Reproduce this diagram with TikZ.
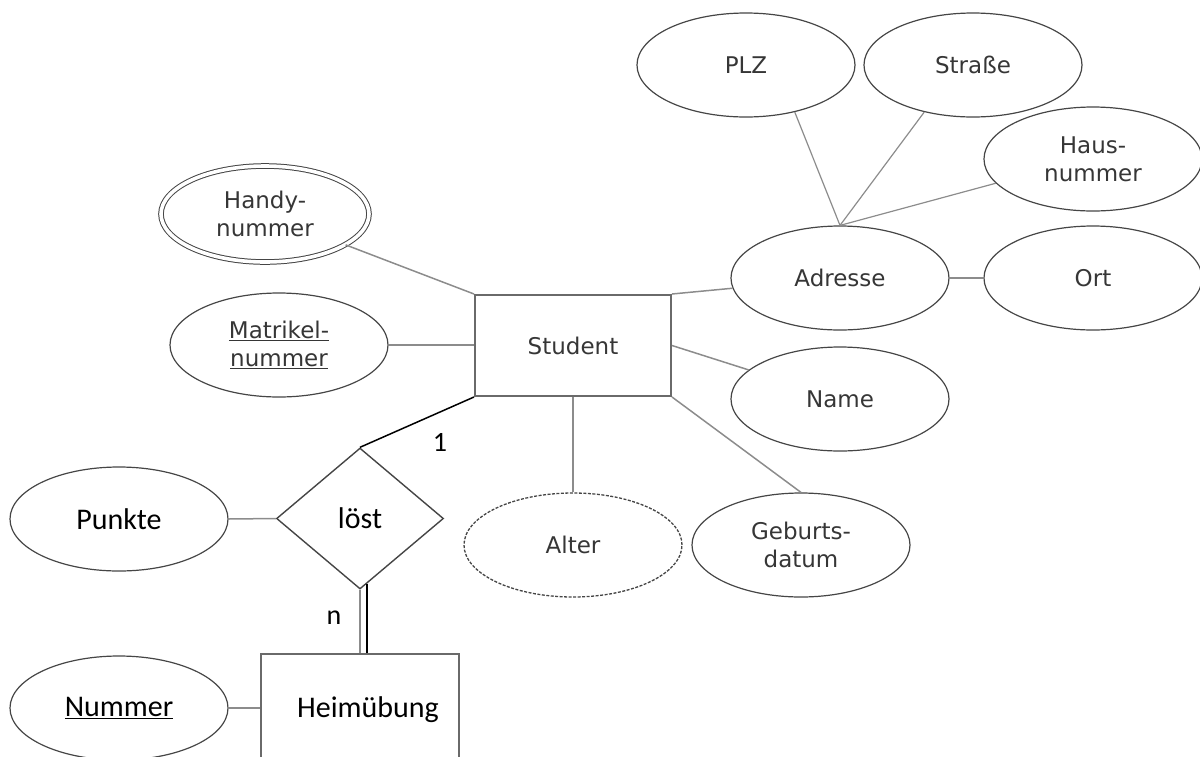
\documentclass[tikz,border=0pt]{standalone}
\usepackage{fontspec}
\setmainfont{DejaVu Sans}
\newfontfamily\carlfont{Carlito}
\usetikzlibrary{shapes.geometric}
\definecolor{txtgray}{HTML}{363636}
\definecolor{ellcol}{HTML}{454545}
\definecolor{linkcol}{HTML}{8C8C8C}
\definecolor{rectcol}{HTML}{6A6A6A}
\begin{document}
\begin{tikzpicture}[x=1pt,y=-1pt,
  attr/.style={ellipse, draw=ellcol, line width=1.2pt, minimum width=218pt, minimum height=104pt,
    inner sep=0pt, text=txtgray, font=\fontsize{23}{28}\selectfont, align=center},
  battr/.style={attr, text=black, font=\carlfont\fontsize{30}{34}\selectfont},
  entitybox/.style={rectangle, draw=rectcol, line width=2pt, inner sep=0pt},
  relbox/.style={diamond, draw=ellcol, line width=1.4pt, inner sep=0pt, minimum width=167pt, minimum height=141pt,
    text=black, font=\carlfont\fontsize{30}{34}\selectfont},
  link/.style={draw=linkcol, line width=1.5pt},
  card/.style={inner sep=0pt, text=black, font=\carlfont\fontsize{28}{32}\selectfont}]
\useasboundingbox (0,0) rectangle (1200,756);
\clip (0,0) rectangle (1200,756);

% entities and relationship
\node[entitybox, minimum width=196pt, minimum height=101pt, text=txtgray, font=\fontsize{23}{28}\selectfont] (student) at (573,345.5) {Student};
\node[entitybox, minimum width=198pt, minimum height=112pt, text=black, font=\carlfont\fontsize{30}{34}\selectfont] (heim) at (360,710) {\hspace*{16pt}Heimübung};
\node[relbox] (loest) at (360,518.5) {löst};

% attributes
\node[attr, double, double distance=3.6pt, line width=1pt, minimum width=208pt, minimum height=96pt] (handy) at (265,214) {Handy-\\nummer};
\node[attr] (matrikel) at (279,345) {\underline{Matrikel-}\\\underline{nummer}};
\node[attr] (adresse) at (840,278) {Adresse};
\node[attr] (ort) at (1093,278) {Ort};
\node[attr] (plz) at (746,65) {PLZ};
\node[attr] (strasse) at (973,65) {Straße};
\node[attr] (haus) at (1093,159) {Haus-\\nummer};
\node[attr] (name) at (840,399) {Name};
\node[attr] (geb) at (801,545) {Geburts-\\datum};
\node[attr, draw=ellcol, dash pattern=on 3pt off 1.5pt, line width=1.3pt] (alter) at (573,545) {Alter};
\node[battr] (punkte) at (119,519) {Punkte};
\node[battr] (nummer) at (119,708) {\underline{Nummer}};

% cardinalities
\node[card] (one) at (440,442) {1};
\node[card] (en) at (334,618) {n};

% connectors
\draw[link] (handy) -- (student.north west);
\draw[link] (matrikel.east) -- (matrikel.east -| student.west);
\draw[link] (student.north east) -- (adresse);
\draw[link] (adresse.east) -- (ort.west);
\draw[link, line width=1.2pt] (plz.-44) -- (adresse.north);
\draw[link, line width=1.2pt] (strasse.-136) -- (adresse.north);
\draw[link, line width=1.2pt] (haus.-166) -- (adresse.north);
\draw[link] (student.east) -- (name);
\draw[link] (student.south east) -- (geb.north);
\draw[link] (student.south) -- (alter.north);
\draw[black, line width=1.5pt] (student.south west) -- (loest.north);
\draw[link] (loest.west) -- (punkte.east);
\draw[link] (loest.south) -- (loest.south |- heim.north);
\draw[black, line width=1.8pt] ([xshift=7pt]heim.north) -- ([xshift=7pt,yshift=6pt]loest.south);
\draw[link] (nummer.east) -- (nummer.east -| heim.west);
\end{tikzpicture}
\end{document}
